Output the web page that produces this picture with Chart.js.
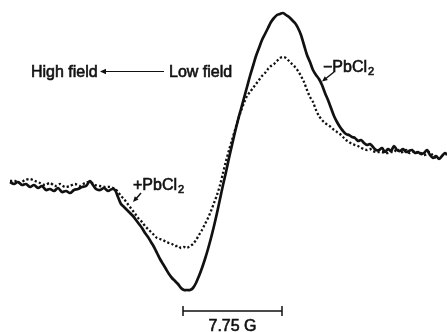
<!DOCTYPE html>
<html>
<head>
<meta charset="utf-8">
<script src="https://cdn.jsdelivr.net/npm/chart.js@4"></script>
<style>
  html, body { margin: 0; padding: 0; background: #fff; }
  #wrap { width: 447px; height: 332px; position: relative; }
</style>
</head>
<body>
<div id="wrap"><canvas id="chart" width="447" height="332"></canvas></div>
<script>
// field position (arbitrary units) and first-derivative signal
const fieldNoPb = [10,14,18,22,26,30,34,38,42,46,50,54,58,62,66,70,74,78,82,86,90,93,96,100,104,108,112,115,118,121,124,127,130,133,136,139,142,145,148,151,154,157,160,163,166,169,172,175,178,181,184,187,190,193,196,199,202,205,208,211,214,217,220,223,226,229,232,235,238,241,244,247,250,253,256,259,262,265,268,271,274,277,280,283,286,289,292,295,298,301,304,307,310,313,316,319,322,325,328,331,334,337,340,343,346,349,352,355,358,361,364,367,370,373,376,379,382,385,388,391,394,397,400,403,406,409,412,415,418,421,424,427,430,433,436,439,442,445,447];
const signalNoPb = [0,-2,0,-3,-2,-5,-3,-6,-4,-8,-7,-9,-6,-10,-9,-11,-8,-7,-5,-4,1,-3,-7,-8,-6,-9,-7,-8,-15,-22,-25,-28,-31,-34,-38,-42,-46,-51,-55,-60,-65,-71,-77,-82,-87,-92,-96,-99,-102,-106,-108,-108,-108,-106,-101,-94,-86,-77,-67,-56,-44,-31,-17,-3,10,24,37,50,62,73,84,95,106,116,126,134,142,148,154,160,164,167,168,169,167,165,162,159,154,147,137,127,120,112,107,103,97,89,82,74,66,60,55,51,48,47,45,44,41,42,39,37,38,35,32,32,34,30,33,31,36,32,31,33,30,31,32,29,30,28,29,32,27,24,26,23,26,29,27];

const fieldPb = [10,15,20,25,30,35,40,45,50,55,60,65,70,75,80,85,90,95,100,105,110,115,118,121,124,127,130,133,136,139,142,145,148,151,154,157,160,163,166,169,172,175,178,181,184,187,190,193,196,199,202,205,208,211,214,217,220,223,226,229,232,235,238,241,244,247,250,253,256,259,262,265,268,271,274,277,280,283,286,289,292,295,298,301,304,307,310,313,316,319,322,325,328,331,334,337,340,343,346,349,352,355,358,361,364,367,370,373,376,379,382,385,388,391,394,397,400,403,406,409,412,415,418,421,424,427,430,433,436];
const signalPb = [1,1,-1,2,3,1,-1,-3,-1,-4,-2,-5,-4,-2,-4,-1,0,-3,-4,-5,-5,-7,-10,-14,-17,-21,-25,-29,-33,-37,-40,-44,-47,-50,-53,-56,-57,-58,-60,-61,-62,-64,-64,-66,-65,-66,-64,-62,-58,-53,-48,-42,-36,-29,-21,-13,-3,9,21,32,42,52,62,71,79,86,90,94,98,102,106,109,113,116,118,121,124,125,124,121,118,115,111,106,100,92,85,80,72,66,62,59,57,55,52,50,48,45,42,40,38,37,36,34,33,32,33,31,30,30,30,29,29,30,30,33,30,30,32,29,30,31,29,29,27,28,30,26,24,25];

// scale bar: 7.75 G between these field positions, drawn below the trace
const scaleBarField = [183, 282];
const scaleBarLevel = -129;
const scaleBarLabel = "7.75 G";

const ink = "#111";
const labelFont = "16px 'Liberation Sans', Arial, sans-serif";

const toPoints = (xs, ys) => xs.map((x, i) => ({ x: x, y: ys[i] }));

// text, arrows and the scale bar
const notesPlugin = {
    id: "notes",
    afterDatasetsDraw(chart) {
        const { ctx, scales: { x, y } } = chart;
        ctx.save();
        ctx.fillStyle = ink;
        ctx.strokeStyle = ink;
        ctx.textBaseline = "alphabetic";

        // High field <---- Low field
        heavyText(ctx, "High field", 31, 77, labelFont);
        heavyText(ctx, "Low field", 169, 77, labelFont);
        ctx.lineWidth = 1.2;
        ctx.beginPath();
        ctx.moveTo(104, 71.5);
        ctx.lineTo(164, 71.5);
        ctx.stroke();
        arrowHead(ctx, 100, 71.5, Math.PI, 6);

        // -PbCl2
        pbLabel(ctx, "\u2212PbCl", 323, 72);
        ctx.lineWidth = 1.5;
        ctx.beginPath();
        ctx.moveTo(334, 72);
        ctx.lineTo(324, 80);
        ctx.stroke();
        arrowHead(ctx, 322, 81.5, Math.atan2(9.5, -12), 5.5);

        // +PbCl2
        pbLabel(ctx, "+PbCl", 133, 190);
        ctx.lineWidth = 1.5;
        ctx.beginPath();
        ctx.moveTo(141, 193);
        ctx.lineTo(135, 200);
        ctx.stroke();
        arrowHead(ctx, 133, 202, Math.atan2(9, -8), 5.5);

        // scale bar
        const x0 = x.getPixelForValue(scaleBarField[0]);
        const x1 = x.getPixelForValue(scaleBarField[1]);
        const yb = y.getPixelForValue(scaleBarLevel);
        ctx.lineWidth = 1.5;
        ctx.beginPath();
        ctx.moveTo(x0, yb);
        ctx.lineTo(x1, yb);
        ctx.moveTo(x0, yb - 5);
        ctx.lineTo(x0, yb + 5);
        ctx.moveTo(x1, yb - 5);
        ctx.lineTo(x1, yb + 5);
        ctx.stroke();
        ctx.textAlign = "center";
        heavyText(ctx, scaleBarLabel, (x0 + x1) / 2, 331, labelFont);
        ctx.restore();
    },
};

// scanned print is heavier than the plain face, so add a thin outline
function heavyText(ctx, str, px, py, font) {
    ctx.font = font;
    ctx.fillText(str, px, py);
    ctx.lineWidth = 0.6;
    ctx.strokeText(str, px, py);
}

function pbLabel(ctx, main, px, py) {
    ctx.textAlign = "left";
    heavyText(ctx, main, px, py, labelFont);
    ctx.font = labelFont;
    const w = ctx.measureText(main).width;
    heavyText(ctx, "2", px + w + 1, py + 3, "11px 'Liberation Sans', Arial, sans-serif");
}

function arrowHead(ctx, tx, ty, angle, size) {
    ctx.save();
    ctx.translate(tx, ty);
    ctx.rotate(angle);
    ctx.beginPath();
    ctx.moveTo(0, 0);
    ctx.lineTo(-size, -size * 0.45);
    ctx.lineTo(-size, size * 0.45);
    ctx.closePath();
    ctx.fill();
    ctx.restore();
}

new Chart(document.getElementById("chart"), {
    type: "line",
    data: {
        datasets: [
            {
                label: "-PbCl2",
                data: toPoints(fieldNoPb, signalNoPb),
                borderColor: ink,
                borderWidth: 2.7,
                pointRadius: 0,
                tension: 0.3,
            },
            {
                label: "+PbCl2",
                data: toPoints(fieldPb, signalPb),
                borderColor: ink,
                borderWidth: 2.3,
                borderDash: [2.2, 2.2],
                pointRadius: 0,
                tension: 0.3,
            },
        ],
    },
    options: {
        responsive: false,
        animation: false,
        layout: { padding: 0 },
        plugins: { legend: { display: false }, tooltip: { enabled: false } },
        scales: {
            x: { type: "linear", min: 0, max: 447, display: false },
            y: { min: -150, max: 182, display: false },
        },
    },
    plugins: [notesPlugin],
});
</script>
</body>
</html>
